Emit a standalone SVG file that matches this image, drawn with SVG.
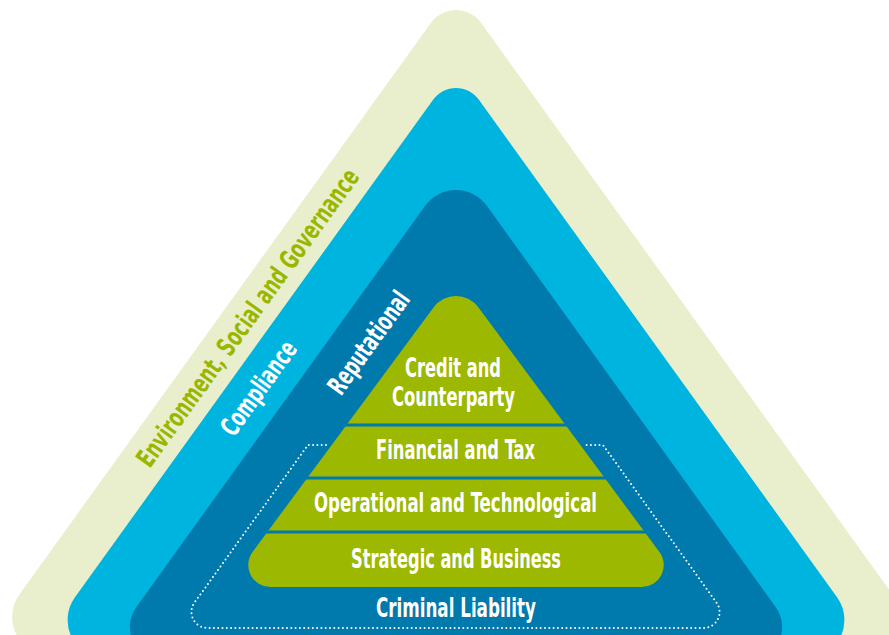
<svg xmlns="http://www.w3.org/2000/svg" width="889" height="635" viewBox="0 0 889 635">
<style>
.lbl{font-family:"Liberation Sans Narrow","DejaVu Sans Condensed","Liberation Sans",Arial,sans-serif;font-weight:bold;font-size:26.5px;text-anchor:middle;fill:#ffffff}
.esg{fill:#9ab700}
.sep{stroke:#0079ad;stroke-width:3;fill:none}
.dots{fill:none;stroke:#ffffff;stroke-width:2;stroke-linecap:round;stroke-dasharray:0 4.3}
</style>
<rect width="889" height="635" fill="#ffffff"/>
<g id="esg">
<path d="M 430.84 22.94 A 31 31 0 0 1 481.16 22.94 L 892.49 594.24 A 39 39 0 0 1 860.86 656 L 51.14 656 A 39 39 0 0 1 19.51 594.24 Z" fill="#e9efcd"/>
<text class="lbl esg" transform="translate(255,323) rotate(-54.2)" textLength="360" lengthAdjust="spacingAndGlyphs">Environment, Social and Governance</text>
</g>
<g id="compliance">
<path d="M 433.28 99.56 A 28 28 0 0 1 478.72 99.56 L 837.05 597.24 A 39 39 0 0 1 805.42 659 L 106.58 659 A 39 39 0 0 1 74.95 597.24 Z" fill="#00b4e0"/>
<text class="lbl" transform="translate(266,393.5) rotate(-54.2)" textLength="110" lengthAdjust="spacingAndGlyphs">Compliance</text>
</g>
<g id="reputational">
<path d="M 425.16 205.83 A 38 38 0 0 1 486.84 205.83 L 775.78 607.14 A 34 34 0 0 1 748.19 661 L 163.81 661 A 34 34 0 0 1 136.22 607.14 Z" fill="#0079ad"/>
<text class="lbl" transform="translate(376,348) rotate(-54.2)" textLength="120" lengthAdjust="spacingAndGlyphs">Reputational</text>
</g>
<g id="criminal-liability">
<path class="dots" d="M 326 445 L 308 445 L 194.4 602.7 A 16 16 0 0 0 207.4 628 L 703.6 628 A 16 16 0 0 0 716.6 602.7 L 603 445 L 585 445"/>
<text class="lbl" x="456" y="617" textLength="160" lengthAdjust="spacingAndGlyphs">Criminal Liability</text>
</g>
<g id="core-pyramid">
<path d="M 433.49 307.42 A 28 28 0 0 1 478.51 307.42 L 659.44 551.91 A 22 22 0 0 1 641.75 587 L 270.25 587 A 22 22 0 0 1 252.56 551.91 Z" fill="#9cb800"/>
</g>
<g id="connectors">
<line class="sep" x1="336" y1="425" x2="576" y2="425"/>
<line class="sep" x1="297" y1="478" x2="615" y2="478"/>
<line class="sep" x1="257" y1="532" x2="655" y2="532"/>
</g>
<g id="credit">
<text class="lbl" x="453" y="376.5" textLength="96" lengthAdjust="spacingAndGlyphs">Credit and</text>
<text class="lbl" x="453.5" y="406" textLength="123" lengthAdjust="spacingAndGlyphs">Counterparty</text>
</g>
<g id="financial">
<text class="lbl" x="455.5" y="459" textLength="159" lengthAdjust="spacingAndGlyphs">Financial and Tax</text>
</g>
<g id="operational">
<text class="lbl" x="455.5" y="512" textLength="283" lengthAdjust="spacingAndGlyphs">Operational and Technological</text>
</g>
<g id="strategic">
<text class="lbl" x="456" y="568" textLength="210" lengthAdjust="spacingAndGlyphs">Strategic and Business</text>
</g>
</svg>
